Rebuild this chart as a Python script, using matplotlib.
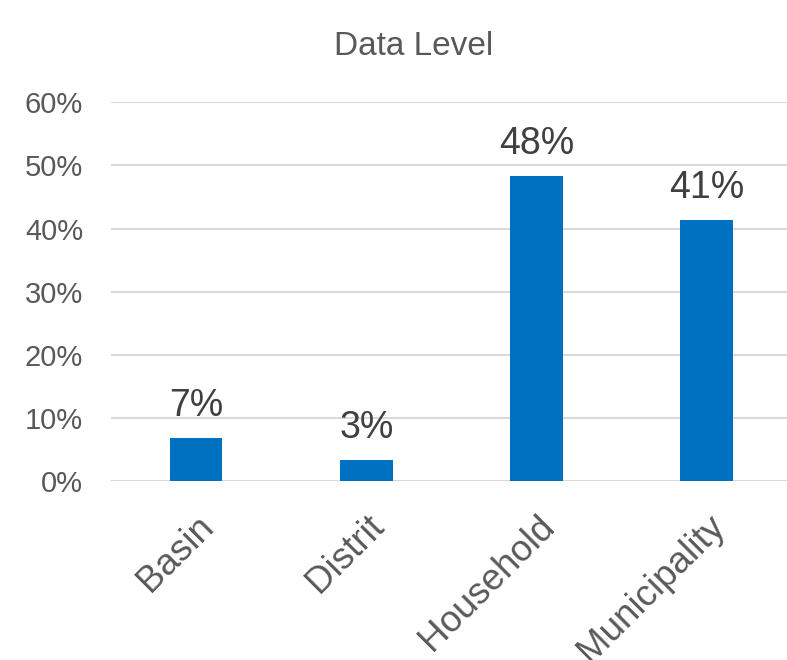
import matplotlib
matplotlib.use('Agg')
import matplotlib.pyplot as plt
from matplotlib.ticker import PercentFormatter

plt.rcParams['font.family'] = ['Liberation Sans', 'DejaVu Sans']

categories = ['Basin', 'Distrit', 'Household', 'Municipality']
shares = [0.069, 0.034, 0.483, 0.414]
labels = ['7%', '3%', '48%', '41%']
yticks = [0, 0.1, 0.2, 0.3, 0.4, 0.5, 0.6]

fig = plt.figure(figsize=(7.87, 6.6), dpi=100)
ax = fig.add_axes([0.141, 0.271, 0.865, 0.574])

bars = ax.bar(range(len(categories)), shares, width=0.31, color='#0070C0', zorder=3)
for b, lab in zip(bars, labels):
    ax.text(b.get_x() + b.get_width() / 2, b.get_height() + 0.022, lab,
            ha='center', va='bottom', fontsize=27, color='#404040')

ax.set_xlim(-0.5, 3.5)
ax.set_ylim(0, 0.6)
ax.set_yticks(yticks)
ax.yaxis.set_major_formatter(PercentFormatter(1.0, decimals=0))
ax.grid(axis='y', color='#d9d9d9', linewidth=1.5, zorder=0)
for s in ax.spines.values():
    s.set_visible(False)
ax.tick_params(axis='both', length=0, labelcolor='#595959')
ax.tick_params(axis='y', labelsize=21, pad=20)

ax.set_xticks(range(len(categories)))
ax.set_xticklabels(categories, rotation=45, ha='right', rotation_mode='anchor')
ax.tick_params(axis='x', labelsize=26.5, pad=20)

fig.text(0.525, 0.93, 'Data Level', ha='center', va='center', fontsize=24, color='#595959')

fig.savefig('out.png', dpi=100)
